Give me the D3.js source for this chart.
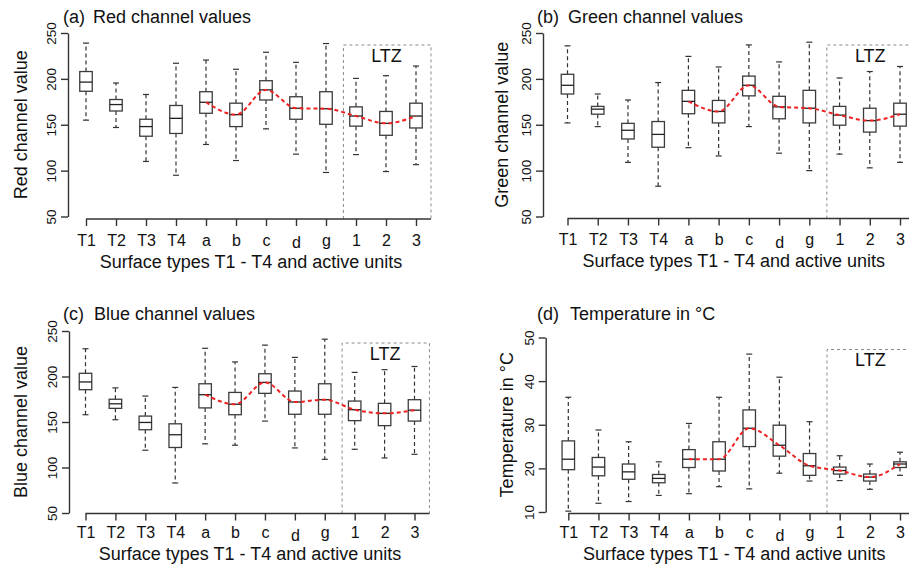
<!DOCTYPE html>
<html>
<head>
<meta charset="utf-8">
<script src="https://cdn.jsdelivr.net/npm/d3@7/dist/d3.min.js"></script>
<style>
  html, body { margin: 0; padding: 0; background: #fff; }
  svg { display: block; font-family: "Liberation Sans", Arial, sans-serif; }
</style>
</head>
<body>
<svg id="chart" width="909" height="564"></svg>
<script>
// Categories along the x axis: surface types T1-T4, active units, LTZ units
const categories = ["T1", "T2", "T3", "T4", "a", "b", "c", "d", "g", "1", "2", "3"];
// Units whose medians are joined by the red trend line
const trendUnits = ["a", "b", "c", "d", "g", "1", "2", "3"];
// Units inside the LTZ frame
const ltzUnits = ["1", "2", "3"];

// (a) Red channel: whisker low, Q1, median, Q3, whisker high
const redLow  = [155, 147, 110, 95, 128.5, 111, 145.5, 118, 98, 117.5, 99, 106.5];
const redQ1   = [186.5, 165, 137.5, 140.5, 162.5, 148, 177, 156, 150.5, 148.5, 138.5, 146.5];
const redMed  = [196.5, 172, 148, 157, 174.5, 161, 188, 168, 167.5, 159.5, 151.5, 159.5];
const redQ3   = [208, 177.5, 156, 171, 186, 173.5, 198, 180.5, 186, 169.5, 164.5, 173.5];
const redHigh = [239, 195.5, 183, 217, 220.5, 210.5, 229, 218, 238.5, 200.5, 203.5, 214];

// (b) Green channel
const greenLow  = [152, 148, 109, 83, 125, 116, 148, 119, 100, 118, 103, 109];
const greenQ1   = [183.5, 161.5, 134.5, 125.5, 162, 152, 181.5, 156.5, 152, 149.5, 142, 148.5];
const greenMed  = [193, 167, 144, 139.5, 175.5, 164.5, 193, 169.5, 168, 160.5, 154.5, 161.5];
const greenQ3   = [205, 170, 151.5, 153.5, 187.5, 176.5, 203, 181, 187.5, 170, 168, 173.5];
const greenHigh = [236, 183.5, 177, 196, 224.5, 213, 237, 218.5, 240, 201, 208, 213.5];

// (c) Blue channel
const blueLow  = [158, 152.5, 119, 83, 126, 124.5, 151, 121.5, 109, 120, 110.5, 114.5];
const blueQ1   = [185.5, 165, 141.5, 122, 165.5, 158, 181.5, 158.5, 158.5, 151.5, 146, 151];
const blueMed  = [194, 170, 149.5, 136, 180, 169.5, 193.5, 172, 174.5, 163.5, 159.5, 163];
const blueQ3   = [203.5, 175, 156.5, 148, 192, 182.5, 203, 184, 192, 173, 170.5, 174.5];
const blueHigh = [230.5, 187.5, 178.5, 188, 231, 216, 234.5, 221, 241, 204.5, 207.5, 211];

// (d) Temperature in °C
const tempLow  = [10.2, 12, 12.4, 13.8, 14.2, 15.8, 15.3, 18.9, 17.1, 17.2, 15.2, 18.4];
const tempQ1   = [19.7, 18.3, 17.5, 16.7, 20.2, 19.4, 25, 22.8, 18.4, 18.7, 17.1, 20.2];
const tempMed  = [22.1, 20.3, 19.2, 17.7, 22.1, 22.1, 29.2, 25.3, 20.6, 19.5, 18, 21];
const tempQ3   = [26.3, 22.5, 21, 18.6, 24.3, 26.1, 33.4, 29.9, 23.4, 20.3, 18.7, 21.5];
const tempHigh = [36.3, 28.8, 26.1, 21.5, 30.3, 36.3, 46.2, 40.9, 30.7, 22.9, 21, 23.7];

// Axis ticks
const channelTicks = [50, 100, 150, 200, 250];
const tempTicks = [10, 20, 30, 40, 50];

const xTitle = "Surface types T1 - T4 and active units";

const panels = [
  { tag: "(a)", title: "Red channel values", yLabel: "Red channel value",
    low: redLow, q1: redQ1, med: redMed, q3: redQ3, high: redHigh, ticks: channelTicks,
    axisX: 68, yTop: 33, yBot: 216.5, axisY: 219, xFirst: 86, xLast: 416,
    labelOff: 26.7, xTitleOff: 48.7,
    titleTagX: 63, titleX: 93, titleY: 23, yLabelOff: 41 },
  { tag: "(b)", title: "Green channel values", yLabel: "Green channel value",
    low: greenLow, q1: greenQ1, med: greenMed, q3: greenQ3, high: greenHigh, ticks: channelTicks,
    axisX: 543, yTop: 33, yBot: 216.5, axisY: 218.5, xFirst: 567.5, xLast: 900,
    labelOff: 26.7, xTitleOff: 48.7,
    titleTagX: 537, titleX: 568, titleY: 22.5, yLabelOff: 35 },
  { tag: "(c)", title: "Blue channel values", yLabel: "Blue channel value",
    low: blueLow, q1: blueQ1, med: blueMed, q3: blueQ3, high: blueHigh, ticks: channelTicks,
    axisX: 69, yTop: 331, yBot: 513, axisY: 513.5, xFirst: 85.5, xLast: 414.5,
    labelOff: 24.5, xTitleOff: 46,
    titleTagX: 63, titleX: 94, titleY: 320, yLabelOff: 42 },
  { tag: "(d)", title: "Temperature in °C", yLabel: "Temperature in °C",
    low: tempLow, q1: tempQ1, med: tempMed, q3: tempQ3, high: tempHigh, ticks: tempTicks,
    axisX: 545.7, yTop: 337.5, yBot: 512, axisY: 513.5, xFirst: 568.3, xLast: 900,
    labelOff: 24.5, xTitleOff: 46,
    titleTagX: 537, titleX: 570, titleY: 320, yLabelOff: 33 }
];

const svg = d3.select("#chart");
const ink = "#333";
const boxInk = "#3c3c3c";

panels.forEach(p => {
  const g = svg.append("g");
  const y = d3.scaleLinear().domain(d3.extent(p.ticks)).range([p.yBot, p.yTop]);
  const x = d3.scalePoint().domain(categories).range([p.xFirst, p.xLast]);
  const step = x.step();
  const boxW = 12.5;
  const capW = 6;
  const axisY = p.axisY;

  const rows = categories.map((c, i) => ({
    c, low: p.low[i], q1: p.q1[i], med: p.med[i], q3: p.q3[i], high: p.high[i]
  }));

  // LTZ frame
  const ltzLeft = x(ltzUnits[0]) - step * 0.42;
  const ltzRight = x(ltzUnits[ltzUnits.length - 1]) + step * 0.5;
  const ltzTop = p.yTop + 12;
  g.append("path")
    .attr("d", `M${ltzLeft},${axisY}V${ltzTop}H${ltzRight}V${axisY}`)
    .attr("fill", "none").attr("stroke", "#8a8a8a").attr("stroke-width", 1)
    .attr("stroke-dasharray", "3,3");
  g.append("text")
    .attr("x", (x("1") + x("3")) / 2 + 0.5).attr("y", ltzTop + 16.5)
    .attr("text-anchor", "middle").attr("font-size", 18).attr("fill", "#111")
    .text("LTZ");

  // Whiskers
  const wh = g.append("g").attr("stroke", ink).attr("stroke-width", 1.2);
  rows.forEach(r => {
    const cx = x(r.c);
    wh.append("line").attr("x1", cx).attr("x2", cx).attr("y1", y(r.q3)).attr("y2", y(r.high))
      .attr("stroke-dasharray", "4,3");
    wh.append("line").attr("x1", cx).attr("x2", cx).attr("y1", y(r.q1)).attr("y2", y(r.low))
      .attr("stroke-dasharray", "4,3");
    wh.append("line").attr("x1", cx - capW / 2).attr("x2", cx + capW / 2)
      .attr("y1", y(r.high)).attr("y2", y(r.high));
    wh.append("line").attr("x1", cx - capW / 2).attr("x2", cx + capW / 2)
      .attr("y1", y(r.low)).attr("y2", y(r.low));
  });

  // Boxes
  g.append("g").selectAll("rect").data(rows).join("rect")
    .attr("x", d => x(d.c) - boxW / 2).attr("width", boxW)
    .attr("y", d => y(d.q3)).attr("height", d => y(d.q1) - y(d.q3))
    .attr("fill", "none").attr("stroke", boxInk).attr("stroke-width", 1.3);
  g.append("g").selectAll("line").data(rows).join("line")
    .attr("x1", d => x(d.c) - boxW / 2).attr("x2", d => x(d.c) + boxW / 2)
    .attr("y1", d => y(d.med)).attr("y2", d => y(d.med))
    .attr("stroke", "#222").attr("stroke-width", 1.3);

  // Trend of medians
  const trend = rows.filter(r => trendUnits.includes(r.c));
  g.append("path")
    .datum(trend)
    .attr("d", d3.line().x(d => x(d.c)).y(d => y(d.med)).curve(d3.curveMonotoneX))
    .attr("fill", "none").attr("stroke", "#ee2222").attr("stroke-width", 2)
    .attr("stroke-dasharray", "4,3");

  // Y axis
  const yAxis = g.append("g").attr("transform", `translate(${p.axisX},0)`)
    .call(d3.axisLeft(y).tickValues(p.ticks).tickSize(7).tickSizeOuter(0));
  yAxis.select(".domain").attr("stroke", ink).attr("stroke-width", 1.4);
  yAxis.selectAll(".tick line").attr("stroke", ink).attr("stroke-width", 1.4);
  yAxis.selectAll(".tick text")
    .attr("transform", "rotate(-90)").attr("x", 0).attr("y", -12).attr("dy", 0)
    .attr("text-anchor", "middle").attr("font-size", 13.5).attr("fill", "#111")
    .attr("font-family", "Liberation Sans, Arial, sans-serif");

  // X axis: the baseline runs on to the right side of the LTZ frame
  const xAxis = g.append("g").attr("transform", `translate(0,${axisY})`)
    .call(d3.axisBottom(x).tickSize(7).tickSizeOuter(0));
  xAxis.select(".domain").attr("d", `M${p.xFirst},0H${ltzRight}`)
    .attr("stroke", ink).attr("stroke-width", 1.5);
  xAxis.selectAll(".tick line").attr("stroke", ink).attr("stroke-width", 1.4);
  xAxis.selectAll(".tick text")
    .attr("y", d => (d === "d" ? p.labelOff + 2.7 : p.labelOff)).attr("dy", 0)
    .attr("font-size", 16).attr("fill", "#111")
    .attr("font-family", "Liberation Sans, Arial, sans-serif");

  // Axis titles
  g.append("text")
    .attr("x", (p.xFirst + p.xLast) / 2).attr("y", axisY + p.xTitleOff)
    .attr("text-anchor", "middle").attr("font-size", 18).attr("fill", "#111")
    .text(xTitle);
  g.append("text")
    .attr("transform", `translate(${p.axisX - p.yLabelOff},${(p.yTop + p.yBot) / 2}) rotate(-90)`)
    .attr("text-anchor", "middle").attr("font-size", 18).attr("fill", "#111")
    .text(p.yLabel);

  // Panel title
  g.append("text").attr("x", p.titleTagX).attr("y", p.titleY)
    .attr("font-size", 18).attr("fill", "#111").text(p.tag);
  g.append("text").attr("x", p.titleX).attr("y", p.titleY)
    .attr("font-size", 18).attr("fill", "#111").text(p.title);
});
</script>
</body>
</html>
